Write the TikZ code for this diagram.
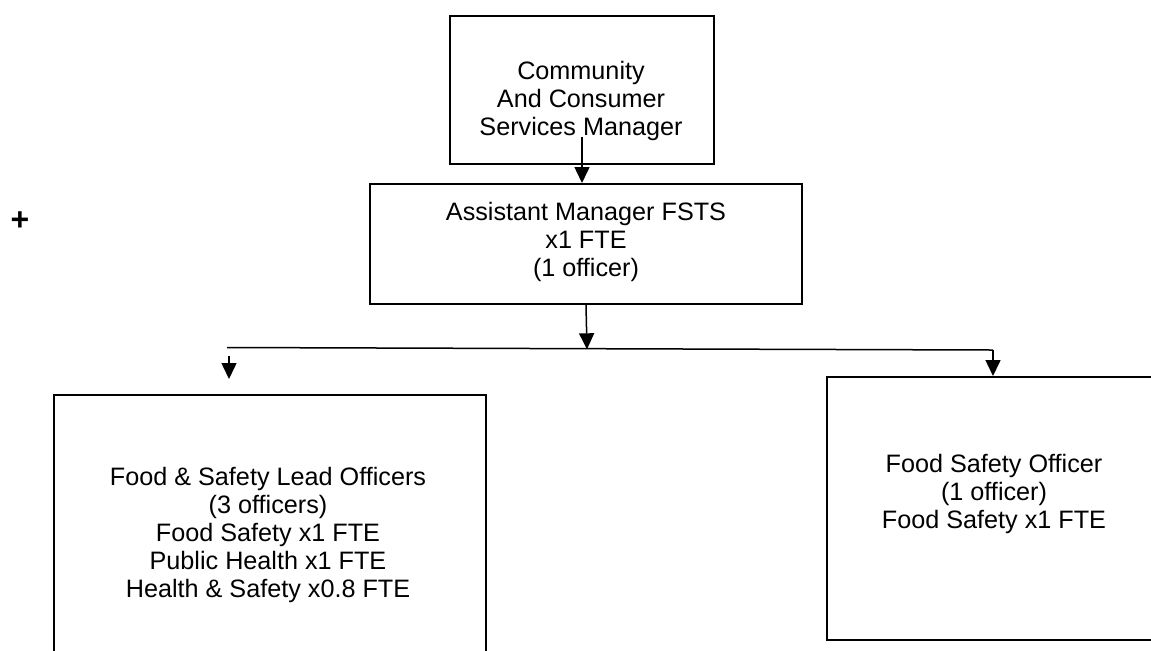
\documentclass[tikz,border=0pt]{standalone}
\usepackage{fontspec}
\setmainfont{Liberation Sans}
\usetikzlibrary{arrows.meta}
\tikzset{
  box/.style={draw, line width=1pt, rectangle, inner sep=0pt, anchor=north west},
  lbl/.style={align=center, font=\fontsize{12.6}{14}\selectfont, inner sep=0pt},
  link/.style={line width=0.75pt, -{Triangle[length=8pt,width=7.5pt]}},
}

\begin{document}
\begin{tikzpicture}[x=0.5pt,y=-0.5pt]
%              (mgr)
%                |
%             (asst)
%                |
%   (drop) ------+------ (busR)
%     |                    |
%  (lead)               (fso)

	\useasboundingbox (0,0) rectangle (1151,650);
	\clip (0,0) rectangle (1151,650);

	\node[box, minimum width=132pt, minimum height=74pt] (mgr) at (449,15) {};
	\node[box, minimum width=216pt, minimum height=60pt] (asst) at (369,183) {};
	\node[box, minimum width=216pt, minimum height=138pt] (lead) at (53,394) {};
	\node[box, minimum width=172pt, minimum height=131.5pt] (fso) at (826,376) {};

	\node[lbl] (mgrtxt) at (581,101) {Community\\And Consumer\\Services Manager};
	\node[lbl] (assttxt) at (586,242) {Assistant Manager FSTS\\x1 FTE\\(1 officer)};
	\node[lbl] (leadtxt) at (268,535) {Food \& Safety Lead Officers\\(3 officers)\\Food Safety x1 FTE\\Public Health x1 FTE\\Health \& Safety x0.8 FTE};
	\node[lbl] (fsotxt) at (994,494) {Food Safety Officer\\(1 officer)\\Food Safety x1 FTE};
	\node[lbl, font=\fontsize{16}{16}\bfseries] (plus) at (20,221) {+};

	\coordinate (mgrout) at (582,137);
	\coordinate (busL) at (227,347.5);
	\coordinate (busmid) at (587,349.3);
	\coordinate (busR) at (993,350);
	\coordinate (drop) at (229,356);
	\coordinate (droptip) at (229,379);

	\draw[link] (mgrout) -- (mgrout |- asst.north);
	\draw[link] (asst.south) -- (busmid);
	\draw[line width=0.75pt] (busL) -- (busR);
	\draw[link] (busR) -- (busR |- fso.north);
	\draw[link] (drop) -- (droptip);

\end{tikzpicture}
\end{document}
